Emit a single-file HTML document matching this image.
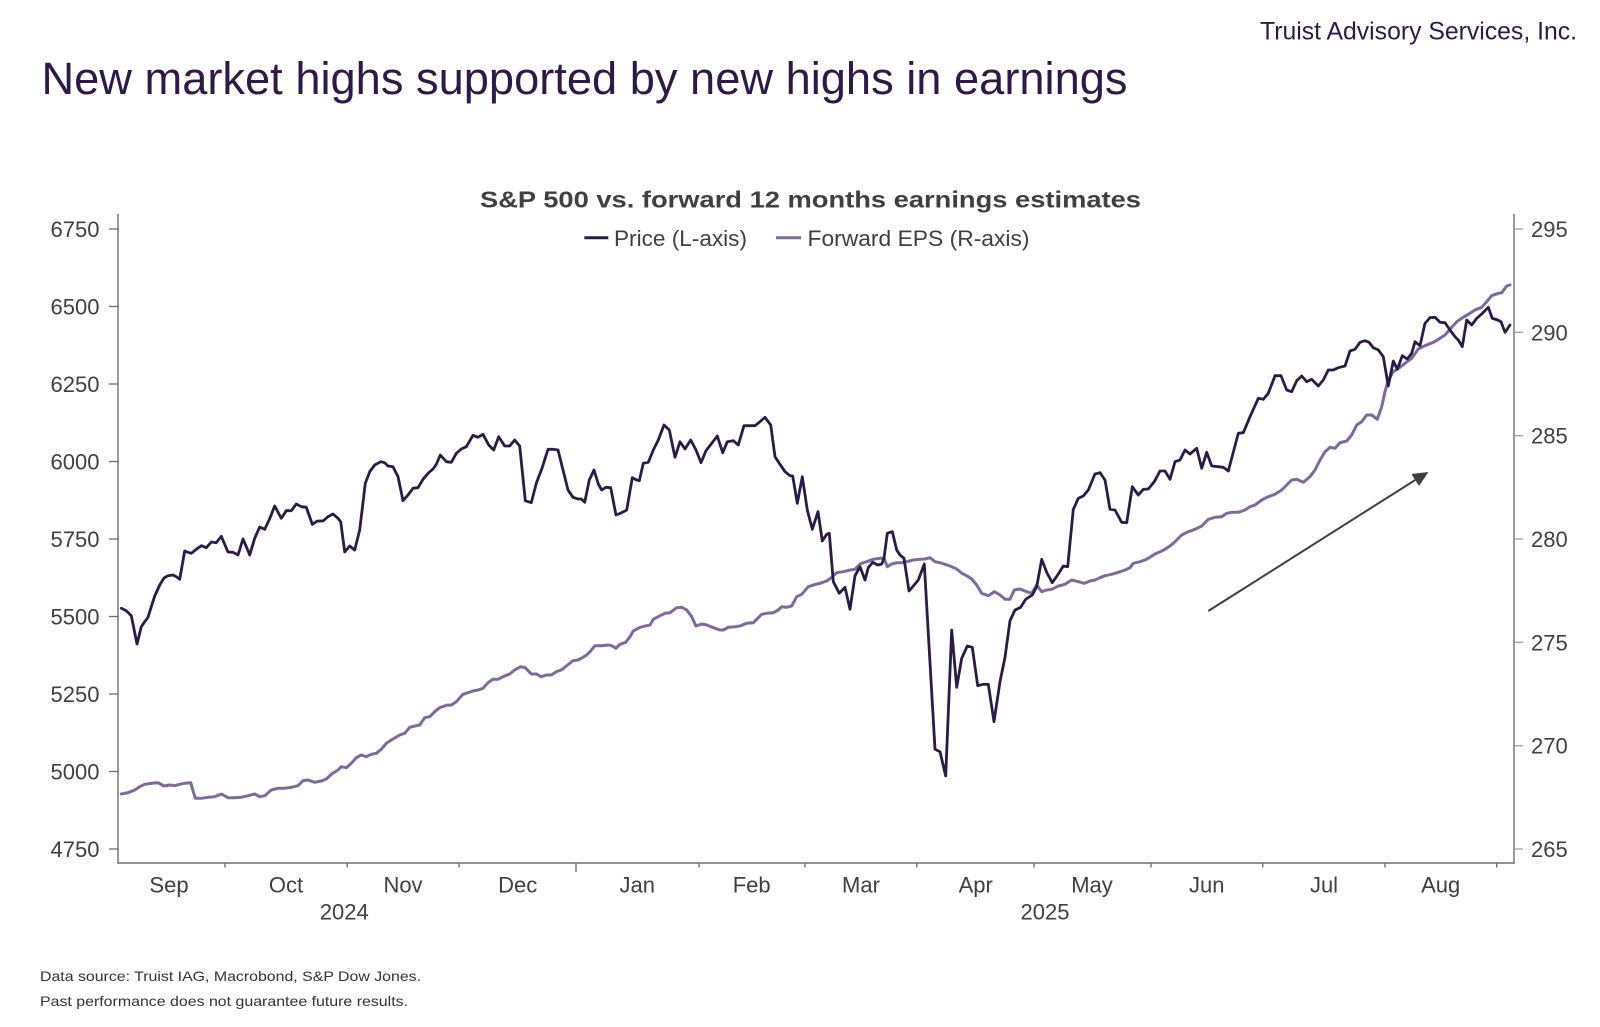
<!DOCTYPE html>
<html>
<head>
<meta charset="utf-8">
<style>
html,body{margin:0;padding:0;background:#fff;}
svg{display:block;}
text{font-family:"Liberation Sans",Arial,sans-serif;}
</style>
</head>
<body>
<svg width="1600" height="1027" viewBox="0 0 1600 1027" xmlns="http://www.w3.org/2000/svg">
<rect width="1600" height="1027" fill="#fff"/>

<!-- header -->
<text x="1260" y="39.5" font-size="25" fill="#2e1a47" textLength="317" lengthAdjust="spacingAndGlyphs">Truist Advisory Services, Inc.</text>
<text x="41.5" y="94" font-size="45" fill="#2e1a47" textLength="1086" lengthAdjust="spacingAndGlyphs">New market highs supported by new highs in earnings</text>

<!-- chart title -->
<text x="480" y="207.7" font-size="23" font-weight="bold" fill="#404040" textLength="661" lengthAdjust="spacingAndGlyphs">S&amp;P 500 vs. forward 12 months earnings estimates</text>

<!-- legend -->
<line x1="584.3" y1="237.7" x2="608.3" y2="237.7" stroke="#2a1b47" stroke-width="3"/>
<text x="614" y="246" font-size="22" fill="#404040" textLength="133" lengthAdjust="spacingAndGlyphs">Price (L-axis)</text>
<line x1="776" y1="237.7" x2="801" y2="237.7" stroke="#7d6b9b" stroke-width="3"/>
<text x="807.5" y="246" font-size="22" fill="#404040" textLength="222" lengthAdjust="spacingAndGlyphs">Forward EPS (R-axis)</text>

<!-- axes -->
<g stroke="#707070" stroke-width="1.4" fill="none">
<line x1="118" y1="214" x2="118" y2="863.5"/>
<line x1="1514" y1="214" x2="1514" y2="863.5"/>
<line x1="117.3" y1="863" x2="1514.7" y2="863"/>
</g>

<!-- left ticks -->
<g stroke="#707070" stroke-width="1.3">
<line x1="109" y1="229" x2="118" y2="229"/>
<line x1="109" y1="306.5" x2="118" y2="306.5"/>
<line x1="109" y1="384" x2="118" y2="384"/>
<line x1="109" y1="461.5" x2="118" y2="461.5"/>
<line x1="109" y1="539" x2="118" y2="539"/>
<line x1="109" y1="616.5" x2="118" y2="616.5"/>
<line x1="109" y1="694" x2="118" y2="694"/>
<line x1="109" y1="771.5" x2="118" y2="771.5"/>
<line x1="109" y1="849" x2="118" y2="849"/>
</g>
<g font-size="22" fill="#404040" text-anchor="end">
<text x="99.5" y="237">6750</text>
<text x="99.5" y="314.5">6500</text>
<text x="99.5" y="392">6250</text>
<text x="99.5" y="469.5">6000</text>
<text x="99.5" y="547">5750</text>
<text x="99.5" y="624.5">5500</text>
<text x="99.5" y="702">5250</text>
<text x="99.5" y="779.5">5000</text>
<text x="99.5" y="857">4750</text>
</g>

<!-- right ticks -->
<g stroke="#a0a0a0" stroke-width="1.3">
<line x1="1514" y1="229" x2="1523" y2="229"/>
<line x1="1514" y1="332.3" x2="1523" y2="332.3"/>
<line x1="1514" y1="435.7" x2="1523" y2="435.7"/>
<line x1="1514" y1="539" x2="1523" y2="539"/>
<line x1="1514" y1="642.3" x2="1523" y2="642.3"/>
<line x1="1514" y1="745.7" x2="1523" y2="745.7"/>
<line x1="1514" y1="849" x2="1523" y2="849"/>
</g>
<g font-size="22" fill="#404040">
<text x="1531" y="237">295</text>
<text x="1531" y="340.3">290</text>
<text x="1531" y="443.7">285</text>
<text x="1531" y="547">280</text>
<text x="1531" y="650.3">275</text>
<text x="1531" y="753.7">270</text>
<text x="1531" y="857">265</text>
</g>

<!-- x ticks -->
<g stroke="#707070" stroke-width="1.4">
<line x1="225" y1="863" x2="225" y2="867.5"/>
<line x1="347.3" y1="863" x2="347.3" y2="867.5"/>
<line x1="459" y1="863" x2="459" y2="867.5"/>
<line x1="576" y1="863" x2="576" y2="872"/>
<line x1="699" y1="863" x2="699" y2="867.5"/>
<line x1="805" y1="863" x2="805" y2="867.5"/>
<line x1="916.7" y1="863" x2="916.7" y2="867.5"/>
<line x1="1034" y1="863" x2="1034" y2="867.5"/>
<line x1="1151" y1="863" x2="1151" y2="867.5"/>
<line x1="1262.7" y1="863" x2="1262.7" y2="867.5"/>
<line x1="1385" y1="863" x2="1385" y2="867.5"/>
<line x1="1496.7" y1="863" x2="1496.7" y2="867.5"/>
</g>
<g font-size="22" fill="#404040" text-anchor="middle">
<text x="169" y="892.5">Sep</text>
<text x="286" y="892.5">Oct</text>
<text x="403" y="892.5">Nov</text>
<text x="517.7" y="892.5">Dec</text>
<text x="637.3" y="892.5">Jan</text>
<text x="751.7" y="892.5">Feb</text>
<text x="861" y="892.5">Mar</text>
<text x="975.7" y="892.5">Apr</text>
<text x="1092" y="892.5">May</text>
<text x="1206.7" y="892.5">Jun</text>
<text x="1324" y="892.5">Jul</text>
<text x="1440.7" y="892.5">Aug</text>
<text x="344.3" y="919.3">2024</text>
<text x="1045" y="919.3">2025</text>
</g>

<!-- EPS series -->
<polyline fill="none" stroke="#7d6b9b" stroke-width="3" stroke-linejoin="round" stroke-linecap="round" points="121.3,794 128,792.7 134.7,790 139.7,786.7 144.7,784.3 151.3,783.3 158,782.7 164,786 169.7,785 174.7,785.7 179.7,784.3 184.7,783.3 190.7,782.7 195.3,798.3 201.3,798.3 208,797.3 214.7,796.7 221.3,794 228,797.7 234.7,797.7 241.3,797.3 248,795.7 254.7,794 259.7,796.7 264.7,795.7 271.3,790 278,788.3 284.7,788.3 291.3,787.3 298,785.7 303,780.7 308,780 314.7,782.3 321.3,781 326.3,779 331.3,774.3 338,770 341.3,766.7 346.3,767.7 351.3,763.3 356.3,757.7 361.3,755 366.3,756.7 371.3,754.3 376.3,753.3 381.3,749.3 386.3,743.3 393,739 399.7,735 404.7,733.3 409.7,727.3 414.7,726 419.7,725 424.7,717.7 429.7,716.7 434.7,711.7 439.7,707.7 446.3,705.3 451.3,705 456.3,701.7 463,694.3 468,692.7 473,691 478,690 483,688.3 488,682.7 493,679.3 498,679.3 503,676.7 509.7,674 514.7,670 520.7,666.7 525.3,667.7 531.3,674 536.3,674 541.3,676.7 546.3,675 551.3,675 556.3,671.7 561.3,670 566.3,666 573,660.7 578,660 583,657.3 586.7,655 590,651.7 595,645.7 601.7,645.7 608.3,645 611.7,645.7 616,648.3 620,644.3 625.7,642.3 630,636.7 633.3,631 640,627.3 646.7,625.7 650,625 653.3,619.3 660,615.7 665,613.3 670,612.7 676.7,607.7 681.7,607.3 686.7,610 691.7,616.7 696,626 701.7,624 706.7,625 713.3,627.7 720,630 723.3,630 728.3,627.3 735,626.7 740,626 746.7,623.3 753.3,622.7 756.7,619.3 761.7,614.3 766.7,613.3 773.3,612.7 778.3,610 781.7,606.7 786.7,607.3 791.7,606 796.7,596.7 801.7,594.3 808.3,586.7 813.3,585 820,583.3 826.7,581 831.7,577.3 836.7,572.7 843.3,571.7 850,570 855,569.3 860,564 866.7,561.7 873.3,559.3 880,558.3 884,558.3 887.3,566.7 891.7,564 896.7,562.7 901.7,562.7 906.7,561.7 913.3,560 920,559.3 925,559 930,557.7 935,561.7 940,562.7 945,564.3 950,566 956.7,569 961.7,573.3 966.7,575.7 971.7,579 976.7,585 981.7,593.3 988.3,595.7 994.3,591.7 1000,595 1005,599.3 1010,599.3 1014.3,590 1020,589 1026.7,591.7 1031.7,593.3 1036.7,585 1041.7,591.7 1046.7,590 1051.7,589.3 1058.3,586 1065,584.3 1071.7,580 1078.3,581.7 1084.3,583.3 1090,581 1095,580 1100,577.7 1105,575.7 1111.7,574.3 1118.3,572.3 1125,570 1130,567.7 1133.3,563.3 1140,561.7 1145,560 1150,557.3 1155,554 1160,551.7 1165,549.3 1170,546 1175,541.7 1181.7,535 1188.3,531.7 1195,529.3 1201.7,526 1208.3,519.3 1215,517.3 1221.7,516.7 1226.7,513.3 1231.7,512.3 1238.3,512.3 1245,510 1250,506.7 1255,505 1261.7,500 1268.3,496.7 1275,494.3 1281.7,490 1286.7,485 1291.7,480 1296.7,479.3 1303.3,482.3 1310,476.7 1315,470 1320,460 1325,451.7 1330,447.3 1335,448.3 1340,442.7 1346.7,441 1351.7,435 1356.7,425 1361.7,421.7 1366.7,415 1371.7,415 1377.3,419.3 1381.7,406.7 1385,391.7 1388.3,380 1393.3,371.7 1400,367.3 1405,363.3 1411.7,358.3 1418.3,349 1425,345.7 1433.3,342.3 1440,338.3 1445,335 1450,329.3 1456.7,321.7 1463.3,317.3 1470,313.3 1475,310 1481.7,307.3 1486.7,301.7 1491.7,295.7 1498.3,293.3 1501.7,292.7 1506.7,286 1510,285"/>

<!-- Price series -->
<polyline fill="none" stroke="#2a1b47" stroke-width="2.8" stroke-linejoin="round" stroke-linecap="round" points="121.3,608.3 126.3,610.7 131.3,615.7 137,644 141.3,626.7 144.7,621.7 148,617.3 151.3,606.7 154.7,596 159.7,585 164,578 168,575.7 173,575 176.3,576.7 179.7,579.3 184.7,551 188,552.3 191.3,553.3 196.3,549.3 201.3,545.7 206.3,547.7 211.3,542 216.3,542.7 221.3,536.3 228,552 233,552.3 238,555 243,539 246.3,546.7 249.7,555 254.7,538.3 259.7,527 264.7,529.3 269.7,518.7 274.7,506 281.3,518.3 286.3,510.7 291.3,510.7 296.3,504 301.3,506.7 306.3,507.3 312.3,524.3 317.3,521 323,521 328,516.7 333,514 338,518.3 340.7,521.7 344.7,552 349.7,546 354.7,550 359.7,530 365.3,483.3 369.7,471.7 374.7,465 380.7,461.7 384.7,462.7 388,466 393,466.7 398,476.7 403,500.7 408,495 413,488.3 418,487.7 423,479.3 428,473.3 433,469 436.3,464.3 440.3,455 446.3,461.7 451.3,462.3 456.3,453.3 461.3,449 466.3,446.7 473,435.3 478,437.3 483,434.3 488.7,445 493.7,450 498.7,436.7 504.7,446 509.7,446 514.7,440 519.7,446 525.3,500.7 531.3,502.7 536.3,483.3 542,468.3 548,449.3 553,449.3 558,450 563,470 568,490 573,497.3 578,499 581.3,499 584.7,502.3 589.3,480 594,470 598.3,484 601.7,490 606,487.3 610.7,487.7 616,515 621.7,512.7 626.7,510 632.3,477.7 636.7,480 639.3,480.7 643.3,463.3 648.3,462.3 653.3,450 658.3,440 664,425 669.3,430 675,457.3 680,441.7 685,449 690.7,440 696,450 701,462.7 706,450.7 711.7,443.3 717.3,436 722.7,452.7 727.3,441.7 733.3,440.7 738.3,445 744,425.7 750,425.7 755,425.7 760,421.7 765,417.3 770.7,425 775,456.7 779.3,463.3 785,471.7 790,475.7 792.7,476 797.3,503.3 802.3,476.7 807.3,510 812.3,529.3 818,511.7 822.3,541 826.7,534.3 829.3,533.3 833.3,581.7 839.3,593.3 845,587.3 850,609.3 855,575.7 860,566.7 865,580 868.3,567.7 872.7,562.3 877.7,565 881.7,564 884,558.3 887.3,533.3 892.3,531.7 896.7,550 900,555 904,558.3 909,591 913.3,586 918.3,580 924.3,564 935,749.3 940,751.7 945.7,776 951.7,630 956.7,687.3 961.7,658.3 967.3,646 972.3,647.3 977.7,685.7 983.3,684.3 988.3,684.3 994,721.7 1000,681.7 1005,657.3 1010,620.7 1015,610 1020.7,607.3 1025.7,599.3 1032.3,595 1036.7,586.7 1041.7,559.3 1047,573 1052.3,582.7 1058.3,574 1063.3,566 1067.7,566.7 1073.3,509.3 1078.3,498.3 1083.3,496 1088.3,490 1095,474 1100,472.7 1105,480 1110,509.3 1115,510 1121.7,522.3 1126.7,522.7 1132.3,486.7 1138.3,495 1143.3,489.3 1148.3,489 1154.3,481.7 1160,471 1165,471 1170,479.3 1175,461.7 1180,460 1185,450 1190,454 1196.7,448.3 1201.7,468.3 1206.7,452.3 1211.7,466 1218.3,466.7 1223.3,467.3 1228.3,471 1238.3,433.3 1243.3,432.7 1250,416.7 1258.3,398.3 1263.3,399.3 1268.3,393.3 1275,375.7 1281,375.7 1286.7,390 1291.7,391.7 1296.7,380.7 1301.7,376 1306.7,381.7 1311.7,379.3 1318.3,386 1323.3,380 1328.3,370 1333.3,370 1338.3,367.7 1345,366 1350,351 1355,349.3 1360,342.3 1365,340.7 1369,342.3 1373.3,347.7 1378.3,350 1383.3,356.7 1388.3,386 1393.3,361 1397.3,369.3 1402.3,355.7 1407.3,359 1411.7,353.3 1415,341.7 1420,345.7 1425,323.3 1430,317.7 1435,317.3 1440,322.3 1445,322.7 1450,330 1455,336.7 1458.3,340 1462.3,346.7 1466.7,320 1471.7,325 1476.7,318.3 1481.7,314 1488.3,307.3 1492.3,318.3 1497.7,320 1501,321.7 1505,332.3 1510,325"/>

<!-- arrow -->
<line x1="1208.3" y1="611" x2="1416" y2="479.5" stroke="#404040" stroke-width="2"/>
<polygon points="1428.5,472 1419,486 1411.5,474" fill="#404040"/>

<!-- footer -->
<text x="40" y="981" font-size="14" fill="#333" textLength="381" lengthAdjust="spacingAndGlyphs">Data source: Truist IAG, Macrobond, S&amp;P Dow Jones.</text>
<text x="40" y="1006" font-size="14" fill="#333" textLength="368" lengthAdjust="spacingAndGlyphs">Past performance does not guarantee future results.</text>
</svg>
</body>
</html>
